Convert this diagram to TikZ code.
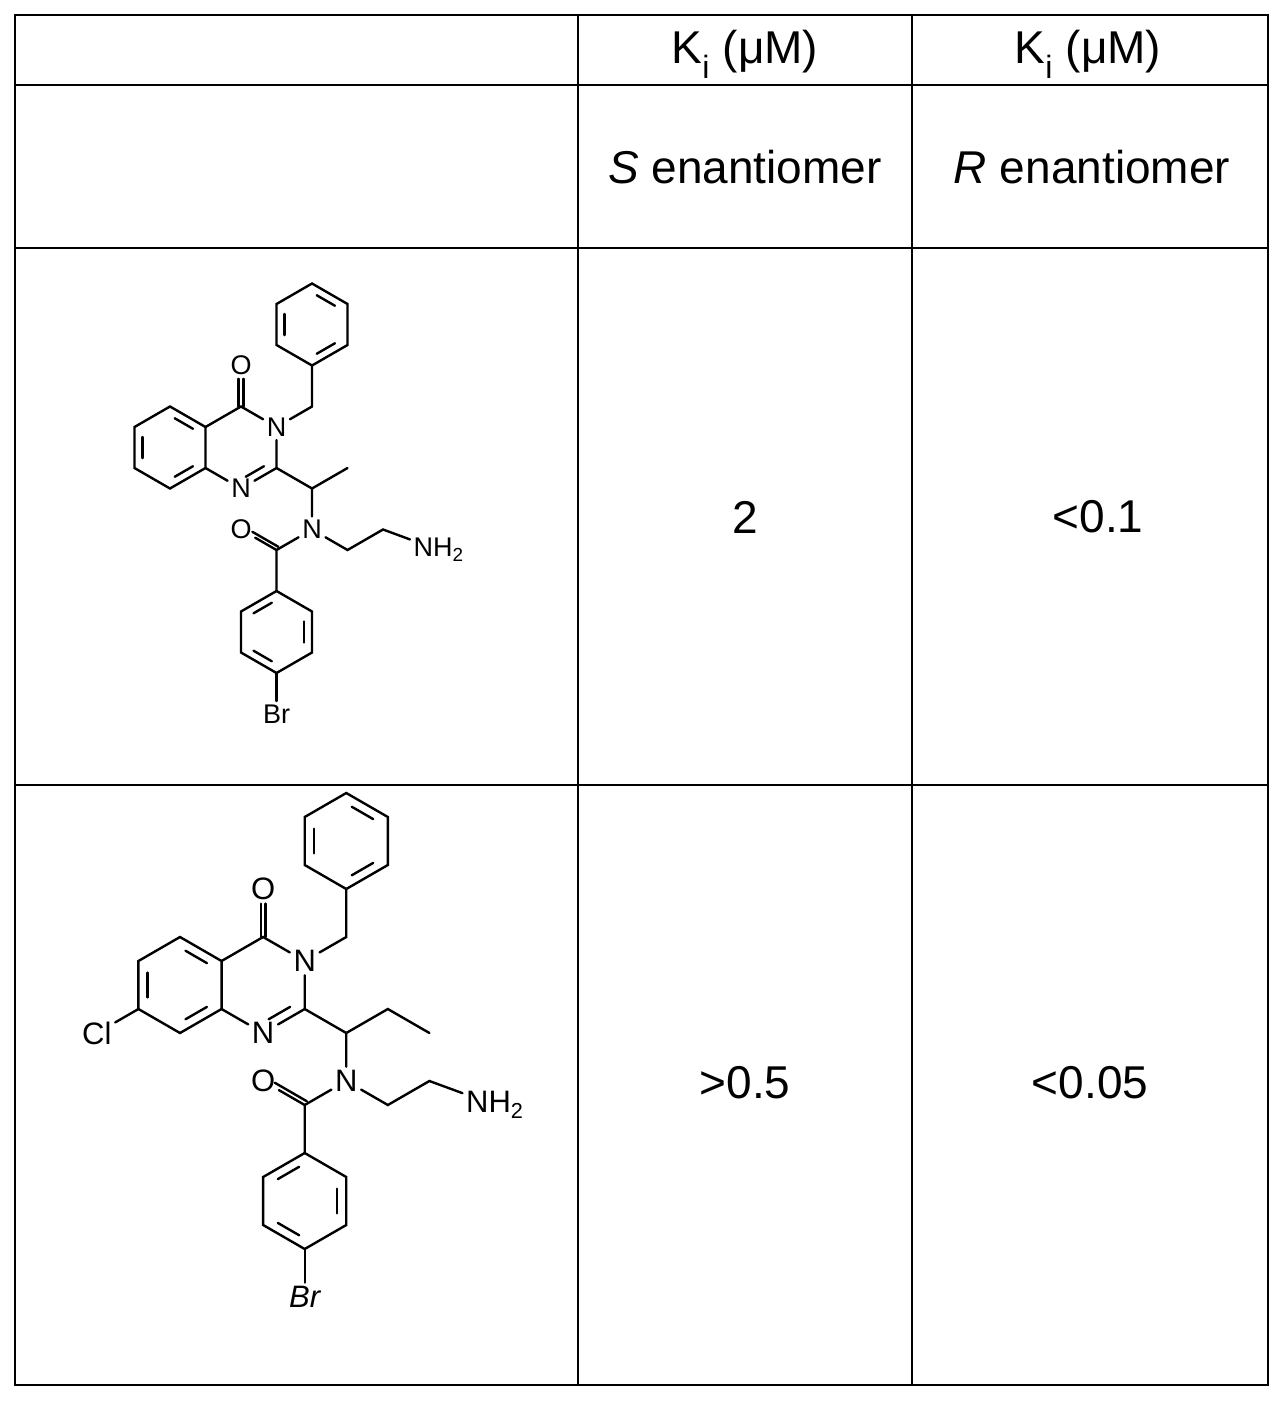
\documentclass[tikz,border=0pt]{standalone}
\usepackage{fontspec}
\setmainfont{Liberation Sans}
\usetikzlibrary{calc}
\tikzset{
  grid/.style={line width=2pt},
  bond/.style={line width=2.4pt, line cap=round},
  atom/.style={inner sep=3.5pt},
  cell/.style={font=\fontsize{46}{46}\selectfont}
}
% inner double line of a ring: #1,#2 ends, #3 ring centre
\newcommand\innerline[3]{\draw[bond] ($($(#1)!.17!(#2)$)!.22!(#3)$) -- ($($(#2)!.17!(#1)$)!.22!(#3)$);}
\newcommand\molcore{%
  \coordinate (cA) at (0,0);
  \coordinate (a1) at (0,1); \coordinate (a2) at (.866,.5); \coordinate (a3) at (.866,-.5);
  \coordinate (a4) at (0,-1); \coordinate (a5) at (-.866,-.5); \coordinate (a6) at (-.866,.5);
  \coordinate (cB) at (1.732,0);
  \coordinate (c4) at (1.732,1); \node[atom] (n3) at (2.598,.5) {N};
  \coordinate (c2) at (2.598,-.5); \node[atom] (n1) at (1.732,-1) {N};
  \node[atom] (o1) at (1.732,2) {O};
  \coordinate (bz) at (3.464,1);
  \coordinate (cP) at (3.464,3);
  \coordinate (p1) at (3.464,2); \coordinate (p2) at (4.33,2.5); \coordinate (p3) at (4.33,3.5);
  \coordinate (p4) at (3.464,4); \coordinate (p5) at (2.598,3.5); \coordinate (p6) at (2.598,2.5);
  \coordinate (ch) at (3.464,-1);
  \node[atom] (na) at (3.464,-2) {N};
  \coordinate (cam) at (2.598,-2.5); \node[atom] (o2) at (1.732,-2) {O};
  \coordinate (cR) at (2.598,-4.5);
  \coordinate (r1) at (2.598,-3.5); \coordinate (r2) at (3.464,-4); \coordinate (r3) at (3.464,-5);
  \coordinate (r4) at (2.598,-5.5); \coordinate (r5) at (1.732,-5); \coordinate (r6) at (1.732,-4);
  \coordinate (m1) at (4.33,-2.5); \coordinate (m2) at (5.196,-2);
  \node[atom, anchor=west] (nh2) at ([xshift=-0.3cm]6.062,-2.5) {NH\textsubscript{2}};
  % rings
  \draw[bond] (a1)--(a2)--(a3)--(a4)--(a5)--(a6)--cycle;
  \innerline{a1}{a2}{cA} \innerline{a5}{a6}{cA} \innerline{a3}{a4}{cA}
  \draw[bond] (a2)--(c4)--(n3)--(c2)--(n1)--(a3);
  \innerline{c2}{n1}{cB}
  \draw[bond] ([xshift=-2.4pt]c4) -- ([xshift=-2.4pt]o1.south);
  \draw[bond] ([xshift=2.4pt]c4) -- ([xshift=2.4pt]o1.south);
  \draw[bond] (n3)--(bz)--(p1);
  \draw[bond] (p1)--(p2)--(p3)--(p4)--(p5)--(p6)--cycle;
  \innerline{p1}{p2}{cP} \innerline{p3}{p4}{cP} \innerline{p5}{p6}{cP}
  \draw[bond] (c2)--(ch)--(na)--(cam)--(r1);
  \draw[bond] (cam)--(o2);
  \draw[bond, shorten >=11pt] ([shift={(0.045,0.078)}]cam) -- ([shift={(0.045,0.078)}]o2.center);
  \draw[bond] (r1)--(r2)--(r3)--(r4)--(r5)--(r6)--cycle;
  \innerline{r1}{r6}{cR} \innerline{r2}{r3}{cR} \innerline{r4}{r5}{cR}
  \draw[bond] (na)--(m1)--(m2)--(nh2);
}
\begin{document}
\begin{tikzpicture}[x=1pt,y=-1pt]
\useasboundingbox (0,0) rectangle (1283,1401);
% table
\draw[grid] (15,15) rectangle (1268,1385);
\draw[grid] (578,15) -- (578,1385);
\draw[grid] (912,15) -- (912,1385);
\draw[grid] (15,85) -- (1268,85);
\draw[grid] (15,248) -- (1268,248);
\draw[grid] (15,785) -- (1268,785);
\node[cell] (h1) at (745,54) {K\textsubscript{i} (μM)};
\node[cell] (h2) at (1088,54) {K\textsubscript{i} (μM)};
\node[cell] (s1) at (745,167) {\textit{S} enantiomer};
\node[cell] (s2) at (1092,167) {\textit{R} enantiomer};
\node[cell] (v1) at (745,517) {2};
\node[cell] (v2) at (1098,517) {<0.1};
\node[cell] (v3) at (745,1083) {>0.5};
\node[cell] (v4) at (1090,1083) {<0.05};
% molecule 1
\begin{scope}[shift={(170,447.5)}, x=41pt, y=41pt, font=\fontsize{27}{27}\selectfont]
  \molcore
  \draw[bond] (ch)--(4.33,-.5);
  \node[atom] (br) at (2.598,-6.5) {Br};
  \draw[bond] (r4)--(br);
\end{scope}
% molecule 2
\begin{scope}[shift={(180,985)}, x=48pt, y=48pt, font=\fontsize{31}{31}\selectfont]
  \molcore
  \draw[bond] (ch)--(4.33,-.5)--(5.196,-1);
  \node[atom] (br) at (2.598,-6.5) {\itshape Br};
  \draw[bond] (r4)--(br);
  \node[atom] (cl) at (-1.732,-1) {Cl};
  \draw[bond] (a5)--(cl);
\end{scope}
\end{tikzpicture}
\end{document}
